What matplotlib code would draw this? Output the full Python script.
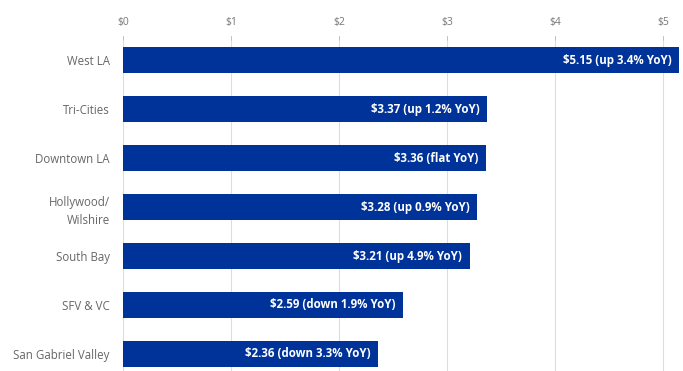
import matplotlib.pyplot as plt

regions = ["West LA", "Tri-Cities", "Downtown LA", "Hollywood/\nWilshire",
           "South Bay", "SFV & VC", "San Gabriel Valley"]
rents = [5.15, 3.37, 3.36, 3.28, 3.21, 2.59, 2.36]
changes = ["up 3.4% YoY", "up 1.2% YoY", "flat YoY", "up 0.9% YoY",
           "up 4.9% YoY", "down 1.9% YoY", "down 3.3% YoY"]
ticks = [0, 1, 2, 3, 4, 5]
tick_labels = ["$0", "$1", "$2", "$3", "$4", "$5"]

plt.rcParams["font.family"] = ["Open Sans", "DejaVu Sans"]

fig = plt.figure(figsize=(6.83, 3.71), dpi=100)
ax = fig.add_axes([123 / 683, 0, 556.2 / 683, 335 / 371])

ypos = list(range(len(regions)))
ax.barh(ypos, rents, height=0.53, color="#003399", zorder=3)

for y, v, c in zip(ypos, rents, changes):
    ax.annotate(f"${v:.2f} ({c})", xy=(v, y), xytext=(-5.5, 0),
                textcoords="offset points", ha="right", va="center",
                color="white", fontsize=8.3, fontweight="bold", zorder=4)

ax.set_xlim(0, 5.15)
ax.set_ylim(6.347, -0.49)
ax.set_yticks(ypos)
ax.set_yticklabels(regions, fontsize=8.3, color="#666666", linespacing=1.5)
ax.set_xticks(ticks)
ax.set_xticklabels(tick_labels, fontsize=7.5, color="#777777")
ax.xaxis.tick_top()
ax.tick_params(axis="x", direction="in", length=3, width=0.6,
               color="#bbbbbb", pad=5.5)
ax.tick_params(axis="y", length=0, pad=9.5)
ax.grid(axis="x", color="#dddddd", linewidth=0.8, zorder=0)
for s in ax.spines.values():
    s.set_visible(False)

fig.savefig("out.png", dpi=100)
